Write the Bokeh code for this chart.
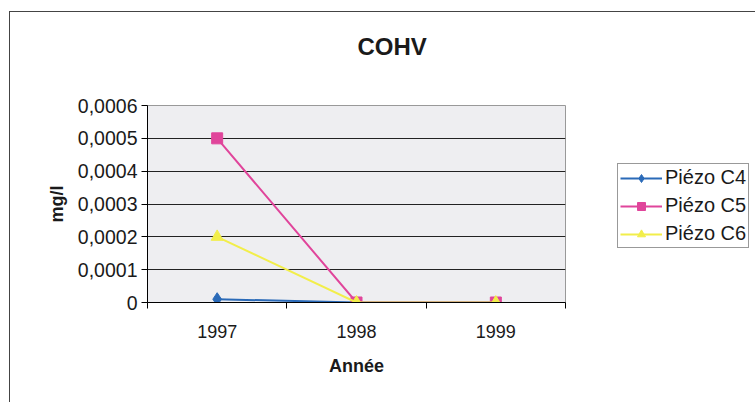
from bokeh.plotting import figure
from bokeh.models import (FixedTicker, Legend, LegendItem, ColumnDataSource)
from bokeh.embed import file_html
from bokeh.resources import INLINE

years = ["1997", "1998", "1999"]
piezo_c4 = [0.00001, 0.0, 0.0]
piezo_c5 = [0.0005, 0.0, 0.0]
piezo_c6 = [0.0002, 0.0, 0.0]
y_ticks = [0.0, 0.0001, 0.0002, 0.0003, 0.0004, 0.0005, 0.0006]
title_text = "COHV"
x_title = "Année"
y_title = "mg/l"
series_names = ["Piézo C4", "Piézo C5", "Piézo C6"]

xs = [i + 1 for i in range(len(years))]
FONT = "Liberation Sans"

p = figure(frame_width=418, frame_height=197, output_backend="svg", toolbar_location=None,
           x_range=(0.5, len(years) + 0.5), y_range=(0, 0.0006),
           min_border_left=137, min_border_right=188, min_border_top=93, min_border_bottom=100)
p.styles = {"border-top": "1px solid #444", "border-left": "1px solid #444",
            "margin-left": "9px", "margin-top": "11px"}
p.background_fill_color = "#eeeef1"
p.border_fill_color = "white"
p.outline_line_color = "#999"

# title (a second, empty line lifts it up in its panel)
p.title.text = title_text + "\n"
p.title.align = "left"
p.title.offset = 210
p.title.standoff = 34
p.title.vertical_align = "top"
p.title.text_font = FONT
p.title.text_font_size = "24px"
p.title.text_font_style = "bold"
p.title.text_color = "#1a1a1a"

# axes
p.xaxis.ticker = FixedTicker(ticks=xs, minor_ticks=[x - 0.5 for x in xs] + [xs[-1] + 0.5])
p.xaxis.major_label_overrides = {x: y for x, y in zip(xs, years)}
p.xaxis.major_tick_out = 0
p.xaxis.major_tick_in = 0
p.xaxis.minor_tick_out = 6
p.xaxis.minor_tick_in = 0
p.xaxis.minor_tick_line_color = "black"
p.xaxis.major_label_standoff = 16
p.xaxis.major_label_text_font_size = "18px"
p.xaxis.axis_label = x_title
p.xaxis.axis_label_standoff = 15

p.yaxis.ticker = FixedTicker(ticks=y_ticks)
p.yaxis.major_label_overrides = {t: ("0" if t == 0 else f"{t:.4f}".replace(".", ",")) for t in y_ticks}
p.yaxis.major_tick_out = 6
p.yaxis.major_tick_in = 0
p.yaxis.minor_tick_line_color = None
p.yaxis.major_label_standoff = 4
p.yaxis.major_label_text_font_size = "19.5px"
p.yaxis.axis_label = y_title
p.yaxis.axis_label_standoff = 8

for ax in (p.xaxis, p.yaxis):
    ax.axis_line_color = "black"
    ax.major_tick_line_color = "black"
    ax.major_label_text_font = FONT
    ax.major_label_text_color = "#1a1a1a"
    ax.axis_label_text_font = FONT
    ax.axis_label_text_font_size = "18px"
    ax.axis_label_text_font_style = "bold"
    ax.axis_label_text_color = "#1a1a1a"

p.xgrid.grid_line_color = None
p.ygrid.ticker = FixedTicker(ticks=y_ticks)
p.ygrid.grid_line_color = "#222"
p.ygrid.grid_line_width = 1

colors = ["#2a6ab8", "#e0459b", "#f2ee4a"]
series = [piezo_c4, piezo_c5, piezo_c6]
markers = ["diamond", "square", "triangle"]
sizes = [13, 11, 12]
items = []
for name, vals, c, m, s in zip(series_names, series, colors, markers, sizes):
    src = ColumnDataSource(dict(x=xs, y=vals))
    r1 = p.line("x", "y", source=src, line_color=c, line_width=2)
    r2 = p.scatter("x", "y", source=src, marker=m, size=s, fill_color=c, line_color=c)
    items.append(LegendItem(label=name, renderers=[r1, r2]))

legend = Legend(items=items, location=(52, 54), orientation="vertical")
legend.label_text_font = FONT
legend.label_text_font_size = "20px"
legend.label_text_color = "#1a1a1a"
legend.glyph_width = 42
legend.glyph_height = 20
legend.spacing = 5
legend.padding = 2
legend.margin = 0
legend.label_standoff = 3
legend.border_line_color = "#333"
legend.background_fill_alpha = 1
legend.background_fill_color = "white"
p.add_layout(legend, "right")

open("out.html", "w").write(file_html(p, INLINE))
